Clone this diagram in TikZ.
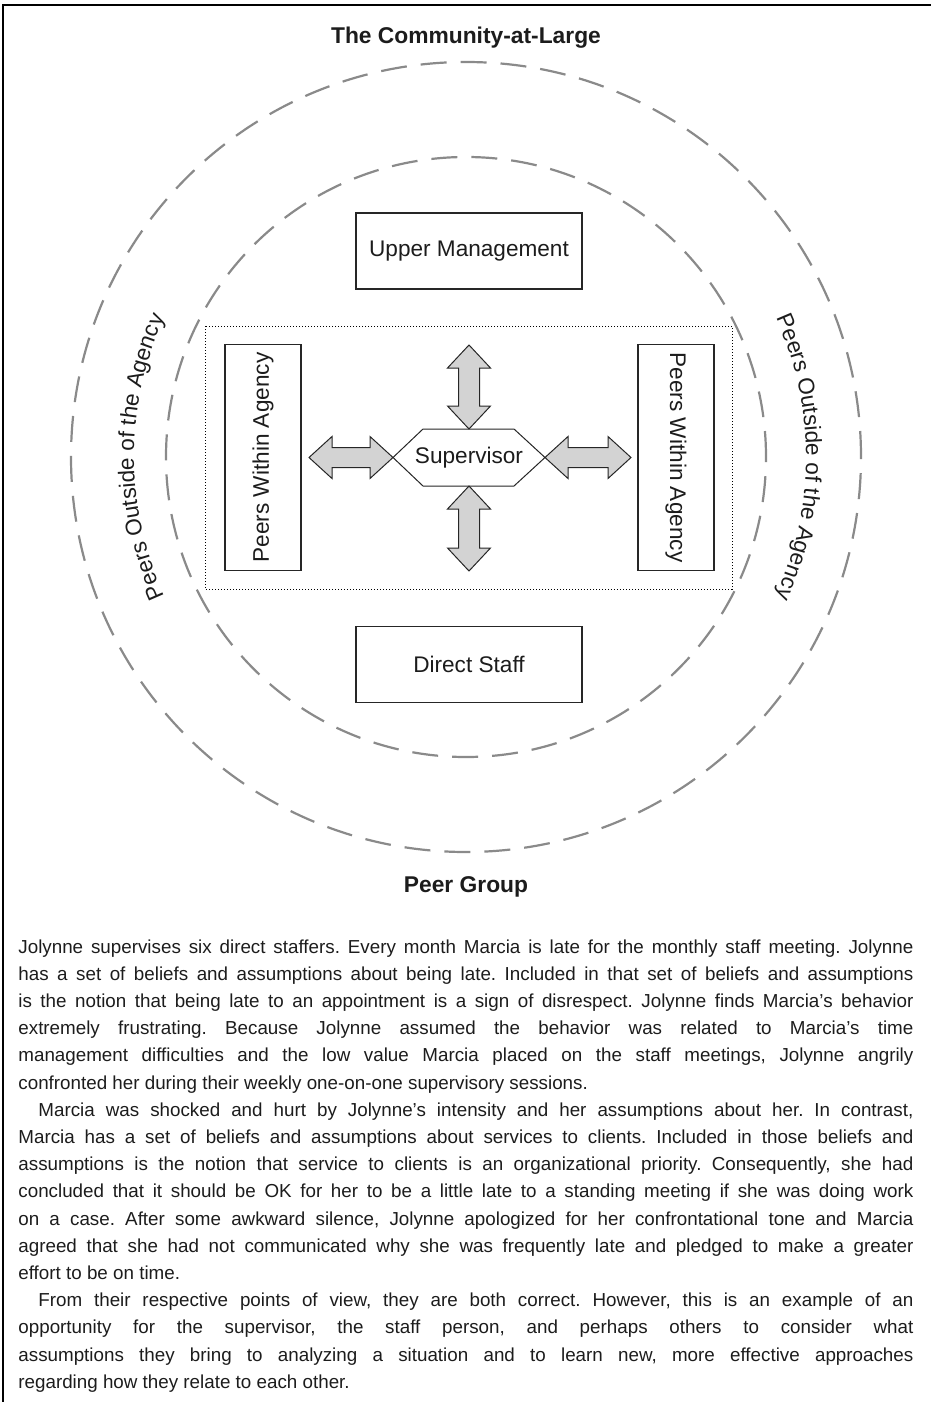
\documentclass[tikz,border=0pt]{standalone}
\usepackage{fontspec}
\setmainfont{Liberation Sans}
\usetikzlibrary{calc,decorations.text}
\definecolor{ringgray}{HTML}{8A8A8A}
\definecolor{arrowfill}{HTML}{D3D3D3}
\definecolor{ink}{HTML}{1C1C1C}
% double-headed block arrows between two tip points
\newcommand\hdarrow[2]{\draw[blockarrow] (#1) -- ++(23,-21) -- ++(0,11) -- ($(#2)+(-23,-10)$) -- ++(0,-11) -- (#2) -- ++(-23,21) -- ++(0,-11) -- ($(#1)+(23,10)$) -- ++(0,11) -- cycle;}
\newcommand\vdarrow[2]{\draw[blockarrow] (#1) -- ++(-21.5,23) -- ++(11,0) -- ($(#2)+(-10.5,-23)$) -- ++(-11,0) -- (#2) -- ++(21.5,-23) -- ++(-11,0) -- ($(#1)+(10.5,23)$) -- ++(11,0) -- cycle;}
\begin{document}
\begin{tikzpicture}[x=0.5pt,y=-0.5pt,
  ring/.style={draw=ringgray,line width=1.1pt,dash pattern=on 13pt off 7pt},
  labelfont/.style={font=\fontsize{11.3pt}{13.5pt}\selectfont},
  heading/.style={font=\fontsize{11.4pt}{13.5pt}\selectfont\bfseries,text=ink},
  rolebox/.style={draw=black!85,line width=0.6pt,fill=white,minimum width=113pt,minimum height=38pt,inner sep=0pt,labelfont,text=ink},
  blockarrow/.style={draw=black!85,line width=0.5pt,fill=arrowfill,line join=miter},
  curvedlabel/.style={decorate,decoration={text along path,text align=center,
     text={|\fontsize{11.3pt}{13.5pt}\selectfont\color{ink}|Peers Outside of the Agency}}}
]
\useasboundingbox (0,0) rectangle (931,1402);

% page frame
\draw[line width=1pt] (3,1402) -- (3,5) -- (931,5);

% headings
\node[heading] (community) at (466,38) {The Community-at-Large};
\node[heading] (peergroup) at (466,887) {Peer Group};

% the two rings
\coordinate (c) at (466,457);
\draw[ring] (c) circle[radius=197.5pt];
\draw[ring] (c) circle[radius=150pt];

% curved labels between the rings
\path[curvedlabel] ($(c)+(208:166pt)$) arc[start angle=208,end angle=152,radius=166pt];
\path[curvedlabel] ($(c)+(28:170pt)$) arc[start angle=28,end angle=-28,radius=170pt];

% the agency
\draw[line width=0.5pt,densely dotted] (205,326) rectangle (732,589);
\node[rolebox] (upper) at (469,251) {Upper Management};
\node[rolebox] (direct) at (469,664.5) {Direct Staff};
\node[rolebox,rotate=90] (peersL) at (263,457.5) {Peers Within Agency};
\node[rolebox,rotate=-90] (peersR) at (676,457.5) {Peers Within Agency};

% supervisor hexagon
\coordinate (hw) at (393,457.5);
\coordinate (he) at (545,457.5);
\coordinate (hn) at (469,429);
\coordinate (hs) at (469,486);
\draw[draw=black!85,line width=0.5pt,fill=white] (hw) -- (423,429) -- (514,429) -- (he) -- (514,486) -- (423,486) -- cycle;
\node[labelfont,text=ink] (sup) at (469,457.5) {Supervisor};

% arrow ends toward the surrounding roles
\coordinate (toL) at (309,457.5);
\coordinate (toR) at (631,457.5);
\coordinate (toU) at (469,345);
\coordinate (toD) at (469,571);
\hdarrow{toL}{hw}
\hdarrow{he}{toR}
\vdarrow{toU}{hn}
\vdarrow{hs}{toD}

% case narrative
\node[anchor=north west,inner sep=0pt,text=ink] (story) at (18,939) {%
\begin{minipage}{447.5pt}
\fontsize{9.4pt}{13.6pt}\selectfont\frenchspacing
\hyphenpenalty=10000 \exhyphenpenalty=10000 \tolerance=10000
\parindent=10pt \parskip=0pt
\noindent Jolynne supervises six direct staffers. Every month Marcia is late for the monthly staff meeting. Jolynne\linebreak
has a set of beliefs and assumptions about being late. Included in that set of beliefs and assumptions\linebreak
is the notion that being late to an appointment is a sign of disrespect. Jolynne finds Marcia’s behavior\linebreak
extremely frustrating. Because Jolynne assumed the behavior was related to Marcia’s time\linebreak
management difficulties and the low value Marcia placed on the staff meetings, Jolynne angrily\linebreak
confronted her during their weekly one-on-one supervisory sessions.

Marcia was shocked and hurt by Jolynne’s intensity and her assumptions about her. In contrast,\linebreak
Marcia has a set of beliefs and assumptions about services to clients. Included in those beliefs and\linebreak
assumptions is the notion that service to clients is an organizational priority. Consequently, she had\linebreak
concluded that it should be OK for her to be a little late to a standing meeting if she was doing work\linebreak
on a case. After some awkward silence, Jolynne apologized for her confrontational tone and Marcia\linebreak
agreed that she had not communicated why she was frequently late and pledged to make a greater\linebreak
effort to be on time.

From their respective points of view, they are both correct. However, this is an example of an\linebreak
opportunity for the supervisor, the staff person, and perhaps others to consider what\linebreak
assumptions they bring to analyzing a situation and to learn new, more effective approaches\linebreak
regarding how they relate to each other.
\end{minipage}};
\end{tikzpicture}
\end{document}
